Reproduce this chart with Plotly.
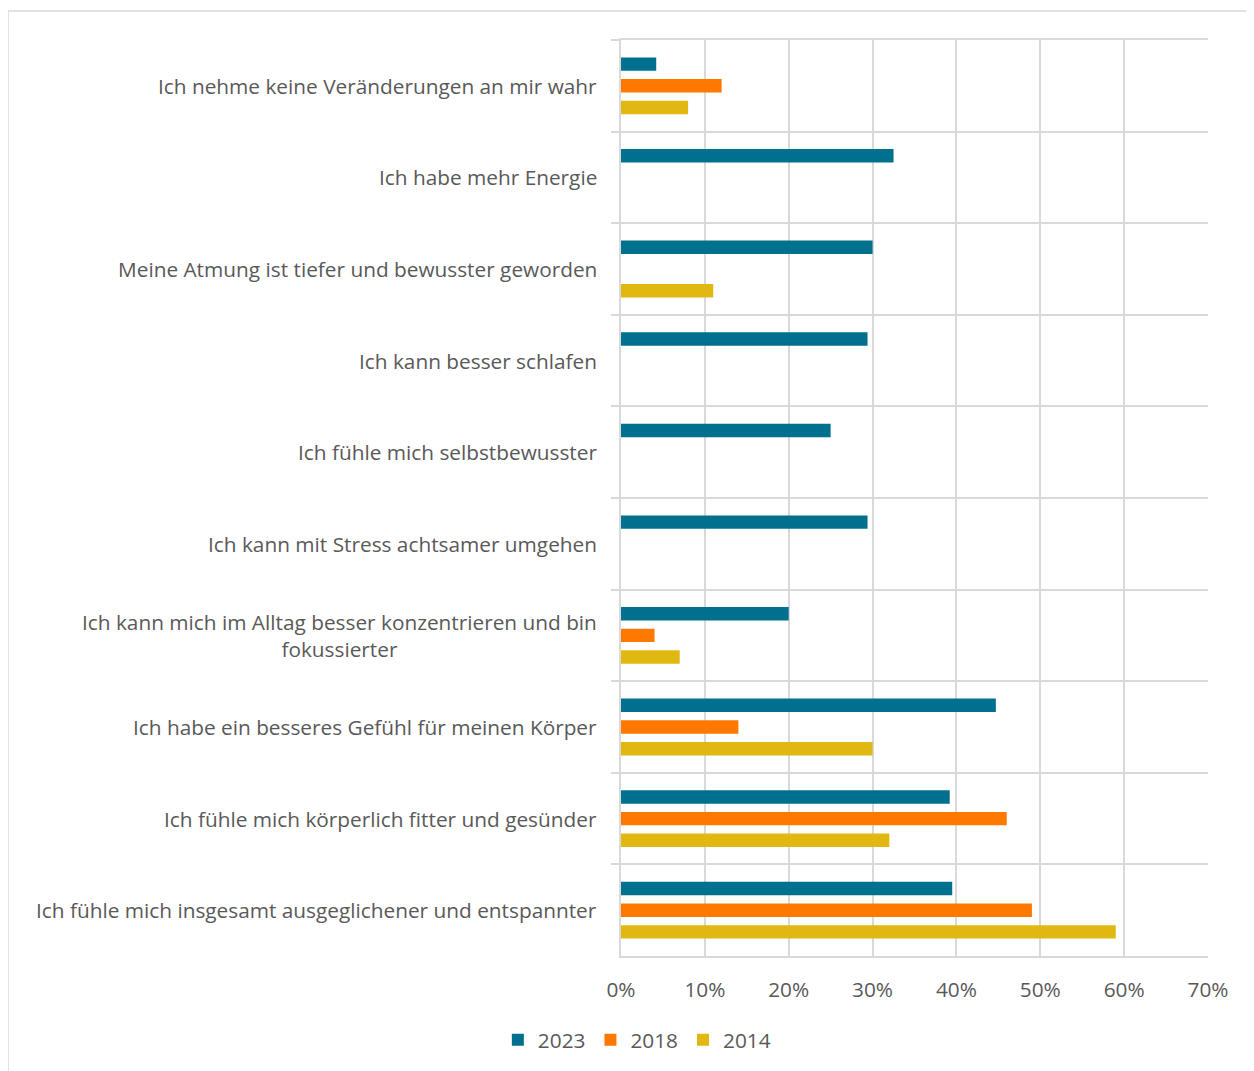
import plotly.graph_objects as go

categories = [
    "Ich nehme keine Veränderungen an mir wahr",
    "Ich habe mehr Energie",
    "Meine Atmung ist tiefer und bewusster geworden",
    "Ich kann besser schlafen",
    "Ich fühle mich selbstbewusster",
    "Ich kann mit Stress achtsamer umgehen",
    "Ich kann mich im Alltag besser konzentrieren und bin<br>fokussierter",
    "Ich habe ein besseres Gefühl für meinen Körper",
    "Ich fühle mich körperlich fitter und gesünder",
    "Ich fühle mich insgesamt ausgeglichener und entspannter",
]
cat_ids = [f"c{i}" for i in range(len(categories))]

v2023 = [4.2, 32.5, 30.0, 29.4, 25.0, 29.4, 20.0, 44.7, 39.2, 39.5]
v2018 = [12.0, None, None, None, None, None, 4.0, 14.0, 46.0, 49.0]
v2014 = [8.0, None, 11.0, None, None, None, 7.0, 30.0, 32.0, 59.0]

series = [("2023", v2023, "#00708F"), ("2018", v2018, "#FF7800"), ("2014", v2014, "#E1B812")]

x_ticks = [0, 10, 20, 30, 40, 50, 60, 70]
x_ticktext = [f"{v}%" for v in x_ticks]

FONT = "Open Sans"
TXT = "#595959"
GRID = "#D9D9D9"
FS = 20.8

fig = go.Figure()
for name, vals, col in series:
    fig.add_trace(go.Bar(
        y=cat_ids, x=vals, name=name, orientation="h",
        marker=dict(color=col, line=dict(width=0)),
    ))

annotations = []
for cid, label in zip(cat_ids, categories):
    annotations.append(dict(
        x=0, xref="paper", y=cid, yref="y", text=label, showarrow=False,
        xanchor="right", yanchor="middle", align="center", xshift=-22,
        font=dict(family=FONT, size=FS, color=TXT),
    ))

W, H = 1254, 1071
L, R, T, B = 613, 54, 32, 123
pw, ph = W - L - R, H - T - B
shapes = [dict(
    type="rect", xref="paper", yref="paper",
    x0=(0 - L) / pw, x1=(W + 20 - L) / pw,
    y0=(H - B - (H + 20)) / ph, y1=(H - B - 3) / ph,
    line=dict(color=GRID, width=1.5), fillcolor="rgba(0,0,0,0)", layer="below",
)]

fig.update_layout(
    width=W, height=H,
    margin=dict(l=L, r=R, t=T, b=B),
    paper_bgcolor="white", plot_bgcolor="white",
    barmode="group", bargap=0.29, bargroupgap=0.38,
    font=dict(family=FONT, size=FS, color=TXT),
    showlegend=True,
    legend=dict(orientation="h", x=0.027, xanchor="center", y=-0.092, yanchor="middle",
                font=dict(family=FONT, size=FS, color=TXT), traceorder="normal",
                itemwidth=30),
    annotations=annotations,
    shapes=shapes,
    xaxis=dict(range=[0, 70], tickvals=x_ticks, ticktext=x_ticktext, showgrid=True,
               gridcolor=GRID, gridwidth=2, zeroline=False, showline=True, mirror=True,
               linecolor=GRID, linewidth=2, ticks="", tickfont=dict(size=FS, color=TXT),
               ticklabelstandoff=14, fixedrange=True),
    yaxis=dict(type="category", categoryorder="array", categoryarray=cat_ids,
               autorange="reversed", tickson="boundaries", showgrid=True,
               gridcolor=GRID, gridwidth=2, showticklabels=False, ticks="outside",
               ticklen=8, tickcolor=GRID, tickwidth=2, showline=True,
               linecolor=GRID, linewidth=2, zeroline=False),
)

fig.write_html("out.html")
